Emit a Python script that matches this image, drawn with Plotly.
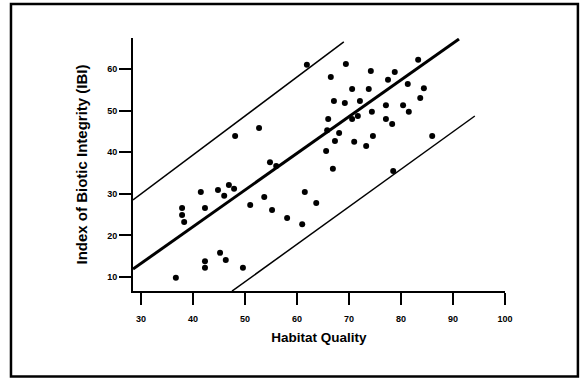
import plotly.graph_objects as go

# Data
habitat = [48.1, 52.7, 61.9, 69.4, 66.5, 74.2, 78.8, 83.3, 77.5, 81.3,
           84.4, 83.7, 70.6, 73.8, 67.1, 69.2, 72.1, 77.1, 80.4, 81.5,
           74.4, 66.0, 70.6, 71.7, 77.1, 78.3, 65.8, 68.1, 67.3, 71.0,
           74.6, 86.0, 73.3, 65.6, 66.9, 78.5, 61.5, 63.7, 58.1, 61.0,
           54.8, 56.0, 41.5, 44.8, 46.9, 46.0, 47.9, 42.3, 51.0, 53.7,
           55.2, 37.9, 37.9, 38.3, 36.7, 42.3, 42.3, 45.2, 46.3, 49.6]
ibi = [43.9, 45.8, 61.0, 61.2, 58.1, 59.5, 59.3, 62.2, 57.4, 56.4,
       55.4, 53.0, 55.2, 55.2, 52.3, 51.8, 52.3, 51.3, 51.3, 49.7,
       49.7, 48.0, 48.0, 48.7, 48.0, 46.8, 45.3, 44.6, 42.7, 42.5,
       43.9, 43.9, 41.5, 40.3, 36.0, 35.5, 30.4, 27.8, 24.2, 22.7,
       37.6, 36.7, 30.4, 30.9, 32.1, 29.5, 31.2, 26.6, 27.3, 29.2,
       26.1, 26.6, 24.9, 23.2, 9.8, 13.8, 12.2, 15.8, 14.1, 12.2]

fit_x = [28.46, 91.15]
fit_y = [11.9, 67.2]
upper_x = [28.46, 69.0]
upper_y = [28.5, 66.5]
lower_x = [47.5, 94.2]
lower_y = [6.6, 48.7]

x_ticks = [30, 40, 50, 60, 70, 80, 90, 100]
y_ticks = [10, 20, 30, 40, 50, 60]

FONT = "Liberation Sans"

fig = go.Figure()
fig.add_trace(go.Scatter(x=upper_x, y=upper_y, mode="lines",
                         line=dict(color="black", width=1.5), hoverinfo="skip"))
fig.add_trace(go.Scatter(x=lower_x, y=lower_y, mode="lines",
                         line=dict(color="black", width=1.5), hoverinfo="skip"))
fig.add_trace(go.Scatter(x=fit_x, y=fit_y, mode="lines",
                         line=dict(color="black", width=3), hoverinfo="skip"))
fig.add_trace(go.Scatter(x=habitat, y=ibi, mode="markers",
                         marker=dict(color="black", size=6)))

fig.update_layout(
    width=584, height=380,
    margin=dict(l=133, r=79, t=38, b=89),
    paper_bgcolor="white", plot_bgcolor="white",
    showlegend=False,
    font=dict(family=FONT, color="black"),
    xaxis=dict(range=[28.46, 100.0], tickvals=x_ticks, showgrid=False,
               zeroline=False, showline=True, linecolor="black", linewidth=2,
               ticks="outside", ticklen=12, tickwidth=2, tickcolor="black",
               ticklabelstandoff=6,
               tickfont=dict(size=9, weight="bold", family=FONT),
               title=dict(text="Habitat Quality", standoff=10,
                          font=dict(size=13.5, weight="bold", family=FONT))),
    yaxis=dict(range=[6.63, 67.45], tickvals=y_ticks, showgrid=False,
               zeroline=False, showline=True, linecolor="black", linewidth=2,
               ticks="outside", ticklen=12, tickwidth=2, tickcolor="black",
               tickfont=dict(size=9, weight="bold", family=FONT),
               title=dict(text="Index of Biotic Integrity (IBI)", standoff=16,
                          font=dict(size=15, weight="bold", family=FONT))),
    shapes=[dict(type="rect", xref="paper", yref="paper",
                 x0=-0.328, x1=1.196, y0=-0.338, y1=1.134,
                 line=dict(color="black", width=2.5), fillcolor="rgba(0,0,0,0)")],
)

fig.write_html("out.html", config={"displayModeBar": False},
               post_script="document.body.style.margin='0px';document.body.style.overflow='hidden';")
